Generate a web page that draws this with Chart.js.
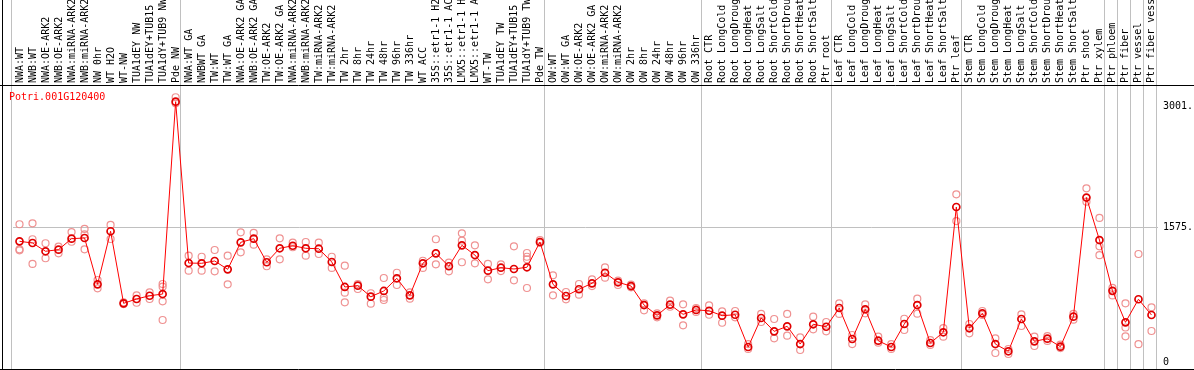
<!DOCTYPE html>
<html>
<head>
<meta charset="utf-8">
<script src="https://cdn.jsdelivr.net/npm/chart.js@4/dist/chart.umd.min.js"></script>
<style>
  body { margin: 0; background: #fff; }
  canvas { display: block; }
</style>
</head>
<body>
<canvas id="myChart" width="1194" height="370"></canvas>
<script>

var geneName = "Potri.001G120400";

var categories = [
    "NWA:WT", "NWB:WT", "NWA:OE-ARK2", "NWB:OE-ARK2", "NWA:miRNA-ARK2", "NWB:miRNA-ARK2", "NW 0hr", "WT H2O", "WT-NW", "TUA1dEY NW",
    "TUA1dEY+TUB15 NW", "TUA1dY+TUB9 NW", "Pde NW", "NWA:WT GA", "NWBWT GA", "TW:WT", "TW:WT GA", "NWA:OE-ARK2 GA", "NWB:OE-ARK2 GA", "TW:OE-ARK2",
    "TW:OE-ARK2 GA", "NWA:miRNA-ARK2 GA", "NWB:miRNA-ARK2 GA", "TW:miRNA-ARK2", "TW:miRNA-ARK2 GA", "TW 2hr", "TW 8hr", "TW 24hr", "TW 48hr", "TW 96hr",
    "TW 336hr", "WT ACC", "35S::etr1-1 H2O", "35S::etr1-1 ACC", "LMX5::etr1-1 H2O", "LMX5::etr1-1 ACC", "WT-TW", "TUA1dEY TW", "TUA1dEY+TUB15 TW", "TUA1dY+TUB9 TW",
    "Pde TW", "OW:WT", "OW:WT GA", "OW:OE-ARK2", "OW:OE-ARK2 GA", "OW:miRNA-ARK2", "OW:miRNA-ARK2 GA", "OW 2hr", "OW 8hr", "OW 24hr",
    "OW 48hr", "OW 96hr", "OW 336hr", "Root CTR", "Root LongCold", "Root LongDrought", "Root LongHeat", "Root LongSalt", "Root ShortCold", "Root ShortDrought",
    "Root ShortHeat", "Root ShortSalt", "Ptr root", "Leaf CTR", "Leaf LongCold", "Leaf LongDrought", "Leaf LongHeat", "Leaf LongSalt", "Leaf ShortCold", "Leaf ShortDrought",
    "Leaf ShortHeat", "Leaf ShortSalt", "Ptr leaf", "Stem CTR", "Stem LongCold", "Stem LongDrought", "Stem LongHeat", "Stem LongSalt", "Stem ShortCold", "Stem ShortDrought",
    "Stem ShortHeat", "Stem ShortSalt", "Ptr shoot", "Ptr xylem", "Ptr phloem", "Ptr fiber", "Ptr vessel", "Ptr fiber vessel"
];

// mean expression per sample
var means = [
    1417, 1397, 1300, 1319, 1448, 1456, 912, 1535, 689, 740,
    778, 798, 3056, 1162, 1159, 1186, 1088, 1405, 1448, 1171,
    1335, 1365, 1335, 1330, 1174, 881, 896, 767, 834, 983,
    783, 1159, 1276, 1124, 1370, 1256, 1072, 1107, 1092, 1112,
    1409, 912, 775, 854, 924, 1048, 936, 892, 669, 548,
    673, 560, 611, 602, 544, 555, 176, 517, 360, 419,
    211, 443, 414, 634, 270, 619, 250, 176, 446, 669,
    223, 349, 1820, 396, 572, 211, 126, 505, 243, 274,
    180, 532, 1931, 1432, 836, 466, 737, 552
];

// replicates
var rep1 = [
    1617, 1628, 1394, 1354, 1526, 1562, 963, 1609, 700, 783,
    818, 916, 3108, 1248, 1236, 1315, 1248, 1523, 1515, 1206,
    1452, 1401, 1409, 1401, 1236, 1131, 916, 807, 986, 1048,
    818, 1189, 1441, 1166, 1511, 1370, 1151, 1147, 1358, 1280,
    1432, 1018, 822, 916, 971, 1112, 955, 908, 689, 572,
    720, 677, 634, 666, 595, 599, 211, 564, 505, 564,
    290, 532, 470, 689, 317, 677, 297, 211, 508, 743,
    258, 399, 1969, 446, 599, 278, 153, 560, 297, 305,
    203, 564, 2039, 1691, 871, 689, 1268, 642
];
var rep2 = [
    1311, 1441, 1218, 1276, 1412, 1499, 865, 1444, 680, 696,
    740, 884, 3037, 1072, 1072, 1065, 912, 1288, 1377, 1124,
    1206, 1347, 1248, 1268, 1104, 814, 857, 685, 755, 904,
    743, 1104, 1147, 1065, 1424, 1159, 971, 1068, 959, 1236,
    1397, 783, 736, 790, 892, 990, 904, 877, 607, 525,
    649, 431, 587, 555, 461, 525, 153, 470, 278, 309,
    141, 384, 360, 564, 211, 572, 227, 153, 376, 567,
    200, 297, 1655, 337, 552, 106, 94, 423, 188, 247,
    164, 497, 1882, 1358, 782, 405, 209, 364
];
var rep3 = [
    1323, 1151, null, null, null, 1323, null, null, null, null,
    null, 713, null, null, null, null, null, null, null, null,
    null, null, null, null, null, 701, null, null, 728, null,
    null, null, null, null, 1171, null, null, null, null, 1206,
    null, null, null, null, null, null, null, null, null, null,
    null, null, null, null, null, null, null, null, null, null,
    null, null, null, null, null, null, null, null, null, null,
    null, null, null, null, null, null, null, null, null, null,
    null, null, null, 1254, null, 301, null, null
];
var rep4 = [
    null, null, null, null, null, null, null, null, null, null,
    null, 493, null, null, null, null, null, null, null, null,
    null, null, null, null, null, null, null, null, null, null,
    null, null, null, null, null, null, null, null, null, 869,
    null, null, null, null, null, null, null, null, null, null,
    null, null, null, null, null, null, null, null, null, null,
    null, null, null, null, null, null, null, null, null, null,
    null, null, null, null, null, null, null, null, null, null,
    null, null, null, null, null, null, null, null
];

var yTicks = [0, 1575, 3001];
var yTickLabels = ["0", "1575.", "3001."];

// index where each sample group starts (plus the end)
var groupEdges = [0, 13, 41, 53, 63, 73, 84, 85, 86, 87, 88];

var monoFont = { family: "'DejaVu Sans Mono', monospace", size: 10 };

var framePlugin = {
    id: 'frame',
    beforeDatasetsDraw: function (chart) {
        var ctx = chart.ctx;
        var x = chart.scales.x;
        var area = chart.chartArea;
        ctx.save();
        ctx.strokeStyle = '#c0c0c0';
        ctx.lineWidth = 1;
        groupEdges.forEach(function (g) {
            var px = Math.round(x.getPixelForValue(g - 0.5)) - 1.5;
            ctx.beginPath();
            ctx.moveTo(px, 0);
            ctx.lineTo(px, area.bottom);
            ctx.stroke();
        });
        ctx.strokeStyle = '#000';
        ctx.beginPath();
        ctx.moveTo(2.5, 0);
        ctx.lineTo(2.5, area.bottom + 0.5);
        ctx.moveTo(0, area.top + 0.5);
        ctx.lineTo(chart.width, area.top + 0.5);
        ctx.moveTo(0, area.bottom + 0.5);
        ctx.lineTo(chart.width, area.bottom + 0.5);
        ctx.stroke();

        // sample names, rotated, reading upwards from the plot frame
        ctx.fillStyle = '#000';
        ctx.font = "10px 'DejaVu Sans Mono', monospace";
        ctx.textAlign = 'left';
        ctx.textBaseline = 'middle';
        categories.forEach(function (name, i) {
            ctx.save();
            ctx.translate(Math.round(x.getPixelForValue(i)) + 0.5, area.top - 2);
            ctx.rotate(-Math.PI / 2);
            ctx.fillText(name, 0, 0);
            ctx.restore();
        });
        ctx.restore();
    },
    afterDraw: function (chart) {
        var ctx = chart.ctx;
        ctx.save();
        ctx.fillStyle = '#ff0000';
        ctx.font = "10px 'DejaVu Sans Mono', monospace";
        ctx.textBaseline = 'middle';
        ctx.fillText(geneName, 9, chart.chartArea.top + 12);
        ctx.restore();
    }
};

function makeRep(data) {
    return {
        data: data,
        showLine: false,
        pointRadius: 3.5,
        pointBorderWidth: 1.2,
        pointBorderColor: 'rgba(238, 140, 140, 0.95)',
        pointBackgroundColor: 'rgba(0,0,0,0)',
        order: 1
    };
}

var ctx = document.getElementById("myChart");
var myChart = new Chart(ctx, {
    type: 'line',
    data: {
        labels: categories,
        datasets: [{
            data: means,
            borderColor: '#ff0000',
            borderWidth: 1,
            pointRadius: 3.5,
            pointBorderWidth: 1.7,
            pointBorderColor: '#e00000',
            pointBackgroundColor: 'rgba(0,0,0,0)',
            tension: 0,
            order: 0
        },
            makeRep(rep1), makeRep(rep2), makeRep(rep3), makeRep(rep4)]
    },
    options: {
        responsive: false,
        animation: false,
        devicePixelRatio: 1,
        layout: { autoPadding: false, padding: { left: 13, right: 0, top: 0, bottom: 1 } },
        plugins: { legend: { display: false }, tooltip: { enabled: false } },
        scales: {
            x: {
                position: 'top',
                offset: true,
                grid: { display: false },
                border: { display: false },
                afterFit: function (scale) {
                    scale.height = 85;
                    scale.paddingLeft = 0;
                    scale.paddingRight = 0;
                },
                ticks: { display: false, autoSkip: false }
            },
            y: {
                position: 'right',
                min: -82,
                max: 3252,
                afterFit: function (scale) {
                    scale.width = 36;
                    scale.paddingTop = 0;
                    scale.paddingBottom = 0;
                },
                afterBuildTicks: function (scale) {
                    scale.ticks = yTicks.map(function (v) { return { value: v }; });
                },
                border: { display: false },
                grid: {
                    drawTicks: false,
                    color: function (c) { return c.tick && c.tick.value === 1575 ? '#c0c0c0' : 'rgba(0,0,0,0)'; }
                },
                ticks: {
                    padding: 5,
                    color: '#000',
                    font: monoFont,
                    callback: function (value) { return yTickLabels[yTicks.indexOf(value)]; }
                }
            }
        }
    },
    plugins: [framePlugin]
});
</script>
</body>
</html>
